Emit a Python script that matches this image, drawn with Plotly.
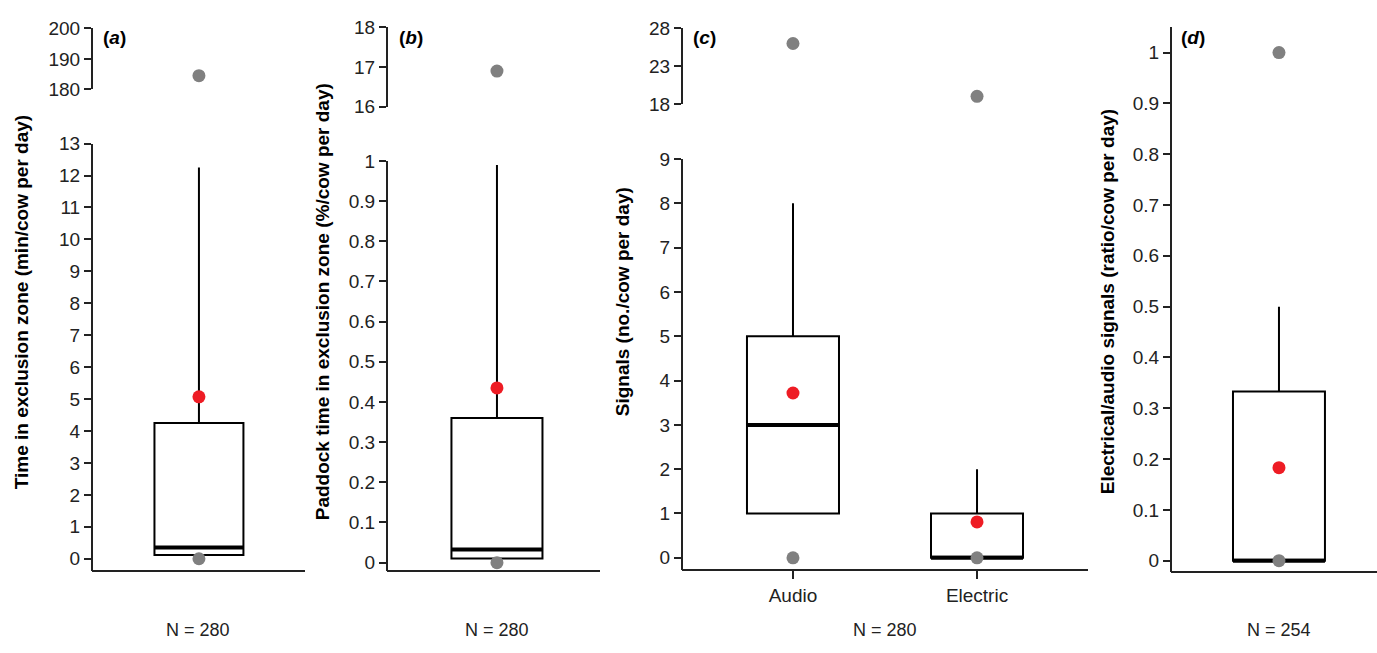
import plotly.graph_objects as go

W, H = 1377, 653

# ---------------- data ----------------
a_pos = [1]
a_q1 = [0.12]
a_med = [0.35]
a_q3 = [4.25]
a_low = [0.12]
a_up = [12.25]
a_mean = [5.07]
a_min = [0]
a_max = [184.5]

b_pos = [1]
b_q1 = [0.01]
b_med = [0.033]
b_q3 = [0.36]
b_low = [0.01]
b_up = [0.99]
b_mean = [0.435]
b_min = [0]
b_max = [16.9]

c_cats = ["Audio", "Electric"]
c_pos = [1, 2]
c_q1 = [1, 0]
c_med = [3, 0]
c_q3 = [5, 1]
c_low = [1, 0]
c_up = [8, 2]
c_mean = [3.72, 0.81]
c_min = [0, 0]
c_max = [26, 19]

d_pos = [1]
d_q1 = [0]
d_med = [0]
d_q3 = [0.333]
d_low = [0]
d_up = [0.5]
d_mean = [0.183]
d_min = [0]
d_max = [1.0]

y_titles = ["Time in exclusion zone (min/cow per day)",
            "Paddock time in exclusion zone (%/cow per day)",
            "Signals (no./cow per day)",
            "Electrical/audio signals (ratio/cow per day)"]
n_labels = ["N = 280", "N = 280", "N = 280", "N = 254"]
panel_tags = ["a", "b", "c", "d"]

a_lower_ticks = list(range(0, 14))
a_upper_ticks = [180, 190, 200]
b_lower_ticks = [0, 0.1, 0.2, 0.3, 0.4, 0.5, 0.6, 0.7, 0.8, 0.9, 1]
b_upper_ticks = [16, 17, 18]
c_lower_ticks = list(range(0, 10))
c_upper_ticks = [18, 23, 28]
d_ticks = [0, 0.1, 0.2, 0.3, 0.4, 0.5, 0.6, 0.7, 0.8, 0.9, 1]

# ---------------- geometry (pixels) ----------------
FONT = "Arial, Liberation Sans, sans-serif"
INK = "#222222"
BOXW = 0.5


def fx(p):
    return p / W


def fy(p):
    return 1 - p / H


def val_range(v0, p0, v1, p1, pb, pt):
    k = (v1 - v0) / (p1 - p0)
    return [v0 + (pb - p0) * k, v0 + (pt - p0) * k]


def fmt(v):
    return "%g" % v


panels = [
    dict(pos=a_pos, q1=a_q1, med=a_med, q3=a_q3, low=a_low, up=a_up, mean=a_mean, mn=a_min, mx=a_max,
         xpx=(92, 305), xrange=[0.399, 1.596], ybot=580,
         lower=dict(ticks=a_lower_ticks, v0=0, p0=567, v1=13, p1=138, top=138),
         upper=dict(ticks=a_upper_ticks, v0=180, p0=82, v1=200, p1=19, top=19, bot=82),
         cats=None, title_x=21, n_x=198, tag_x=101),
    dict(pos=b_pos, q1=b_q1, med=b_med, q3=b_q3, low=b_low, up=b_up, mean=b_mean, mn=b_min, mx=b_max,
         xpx=(387, 600), xrange=[0.396, 1.566], ybot=580,
         lower=dict(ticks=b_lower_ticks, v0=0, p0=571, v1=1, p1=156, top=156),
         upper=dict(ticks=b_upper_ticks, v0=16, p0=100, v1=18, p1=18, top=18, bot=100),
         cats=None, title_x=322, n_x=497, tag_x=397),
    dict(pos=c_pos, q1=c_q1, med=c_med, q3=c_q3, low=c_low, up=c_up, mean=c_mean, mn=c_min, mx=c_max,
         xpx=(682, 1088), xrange=[0.397, 2.603], ybot=579,
         lower=dict(ticks=c_lower_ticks, v0=0, p0=566, v1=9, p1=154, top=154),
         upper=dict(ticks=c_upper_ticks, v0=18, p0=97, v1=28, p1=19, top=19, bot=97),
         cats=c_cats, title_x=622, n_x=885, tag_x=691),
    dict(pos=d_pos, q1=d_q1, med=d_med, q3=d_q3, low=d_low, up=d_up, mean=d_mean, mn=d_min, mx=d_max,
         xpx=(1171, 1377), xrange=[0.413, 1.533], ybot=581,
         lower=dict(ticks=d_ticks, v0=0, p0=569, v1=1, p1=44, top=18),
         upper=None,
         cats=None, title_x=1107, n_x=1279, tag_x=1179),
]

fig = go.Figure()
layout = {}
annotations = []
yidx = 0

axis_common = dict(showline=True, linecolor=INK, linewidth=2, ticks="outside", ticklen=7,
                   tickwidth=1.5, tickcolor=INK, showgrid=False, zeroline=False,
                   tickfont=dict(family=FONT, size=19, color=INK), fixedrange=True)

for i, p in enumerate(panels):
    xi = i + 1
    xname = "x" if xi == 1 else "x%d" % xi
    xkey = "xaxis" if xi == 1 else "xaxis%d" % xi

    # lower y axis
    yidx += 1
    ylow = "y" if yidx == 1 else "y%d" % yidx
    ylowkey = "yaxis" if yidx == 1 else "yaxis%d" % yidx
    L = p["lower"]
    yr = val_range(L["v0"], L["p0"], L["v1"], L["p1"], p["ybot"], L["top"])
    layout[ylowkey] = dict(axis_common, domain=[fy(p["ybot"]), fy(L["top"])], range=yr,
                           anchor="free", position=fx(p["xpx"][0]),
                           tickvals=L["ticks"], ticktext=[fmt(t) for t in L["ticks"]])

    # upper y axis (broken part)
    yup = None
    if p["upper"] is not None:
        yidx += 1
        yup = "y%d" % yidx
        U = p["upper"]
        layout["yaxis%d" % yidx] = dict(axis_common, domain=[fy(U["bot"]), fy(U["top"])],
                                        range=[U["v0"], U["v1"]], anchor="free",
                                        position=fx(p["xpx"][0]),
                                        tickvals=U["ticks"], ticktext=[fmt(t) for t in U["ticks"]])

    xa = dict(axis_common, domain=[fx(p["xpx"][0]), fx(p["xpx"][1])], range=p["xrange"],
              anchor="free", position=fy(p["ybot"]))
    if p["cats"]:
        xa.update(tickvals=p["pos"], ticktext=p["cats"], ticklen=8)
    else:
        xa.update(tickvals=[], ticks="")
    layout[xkey] = xa

    # box
    fig.add_trace(go.Box(x=p["pos"], q1=p["q1"], median=p["med"], q3=p["q3"],
                         lowerfence=p["low"], upperfence=p["up"], width=BOXW,
                         fillcolor="white", line=dict(color="black", width=2),
                         whiskerwidth=0, boxpoints=False, xaxis=xname, yaxis=ylow,
                         hoverinfo="skip"))
    # thick median line
    for xp, m in zip(p["pos"], p["med"]):
        fig.add_trace(go.Scatter(x=[xp - BOXW / 2, xp + BOXW / 2], y=[m, m], mode="lines",
                                 line=dict(color="black", width=4), xaxis=xname, yaxis=ylow,
                                 hoverinfo="skip"))
    # mean
    fig.add_trace(go.Scatter(x=p["pos"], y=p["mean"], mode="markers",
                             marker=dict(color="#ee1c24", size=13), xaxis=xname, yaxis=ylow,
                             hoverinfo="skip"))
    # min
    fig.add_trace(go.Scatter(x=p["pos"], y=p["mn"], mode="markers",
                             marker=dict(color="#808080", size=13), xaxis=xname, yaxis=ylow,
                             hoverinfo="skip"))
    # max
    fig.add_trace(go.Scatter(x=p["pos"], y=p["mx"], mode="markers",
                             marker=dict(color="#808080", size=13), xaxis=xname,
                             yaxis=yup if yup else ylow, hoverinfo="skip"))

    annotations.append(dict(text="<b>%s</b>" % y_titles[i], textangle=-90, x=fx(p["title_x"]),
                            y=fy(302), xref="paper", yref="paper", showarrow=False,
                            xanchor="center", yanchor="middle",
                            font=dict(family=FONT, size=19, color="black")))
    annotations.append(dict(text=n_labels[i], x=fx(p["n_x"]), y=fy(641), xref="paper",
                            yref="paper", showarrow=False, xanchor="center", yanchor="middle",
                            font=dict(family=FONT, size=18, color=INK)))
    annotations.append(dict(text="<b>(<i>%s</i>)</b>" % panel_tags[i], x=fx(p["tag_x"]), y=fy(28),
                            xref="paper", yref="paper", showarrow=False, xanchor="left",
                            yanchor="middle", font=dict(family=FONT, size=19, color="black")))

fig.update_layout(width=W, height=H, margin=dict(l=0, r=0, t=0, b=0),
                  paper_bgcolor="white", plot_bgcolor="rgba(0,0,0,0)",
                  showlegend=False, annotations=annotations, hovermode=False, **layout)

fig.write_html("out.html", config={"displayModeBar": False},
               post_script="document.body.style.margin='0';document.body.style.overflow='hidden';")
